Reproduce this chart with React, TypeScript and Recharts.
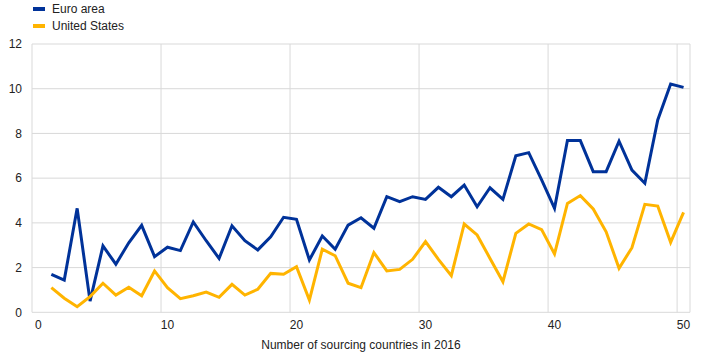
import React from 'react';
import {
  LineChart,
  Line,
  XAxis,
  YAxis,
  CartesianGrid,
  Legend
} from 'recharts';

// number of sourcing countries in 2016 (x)
const countries = [
  1, 2, 3, 4, 5, 6, 7, 8, 9, 10,
  11, 12, 13, 14, 15, 16, 17, 18, 19, 20,
  21, 22, 23, 24, 25, 26, 27, 28, 29, 30,
  31, 32, 33, 34, 35, 36, 37, 38, 39, 40,
  41, 42, 43, 44, 45, 46, 47, 48, 49, 50
];

const euroArea = [
  1.70, 1.44, 4.65, 0.50, 2.97, 2.15, 3.11, 3.89, 2.49, 2.91,
  2.76, 4.04, 3.20, 2.41, 3.87, 3.20, 2.79, 3.38, 4.25, 4.16,
  2.34, 3.41, 2.82, 3.90, 4.23, 3.76, 5.17, 4.95, 5.17, 5.05,
  5.59, 5.17, 5.69, 4.72, 5.57, 5.05, 7.00, 7.14, 5.92, 4.65,
  7.68, 7.68, 6.29, 6.29, 7.65, 6.36, 5.77, 8.60, 10.21, 10.06
];

const unitedStates = [
  1.10, 0.63, 0.25, 0.70, 1.30, 0.77, 1.12, 0.74, 1.85, 1.10,
  0.61, 0.74, 0.90, 0.67, 1.25, 0.77, 1.03, 1.74, 1.70, 2.04,
  0.55, 2.82, 2.53, 1.30, 1.10, 2.67, 1.85, 1.92, 2.37, 3.16,
  2.37, 1.64, 3.95, 3.46, 2.41, 1.37, 3.53, 3.95, 3.70, 2.61,
  4.87, 5.22, 4.62, 3.60, 1.97, 2.89, 4.83, 4.75, 3.13, 4.47
];

const xTicks = [0, 10, 20, 30, 40, 50];
const gridTicks = [-0.5, 9.5, 19.5, 29.5, 39.5, 49.5];
const yTicks = [0, 2, 4, 6, 8, 10, 12];

const BLUE = '#003299';
const YELLOW = '#FFB400';
const FONT = '"Liberation Sans", Arial, sans-serif';

const series = [
  { key: 'euro', name: 'Euro area', color: BLUE },
  { key: 'us', name: 'United States', color: YELLOW }
];

const data = countries.map((n, i) => ({
  n,
  euro: euroArea[i],
  us: unitedStates[i]
}));

const LegendBox = () => (
  <div style={{ height: 44, paddingLeft: 33, fontFamily: FONT, fontSize: 12, color: '#222' }}>
    {series.map(s => (
      <div key={s.key} style={{ display: 'flex', alignItems: 'center', height: 17 }}>
        <span style={{ display: 'inline-block', width: 12, height: 4, background: s.color, marginRight: 7 }} />
        <span>{s.name}</span>
      </div>
    ))}
  </div>
);

const App: React.FC = () => {
  return (
    <div style={{ position: 'absolute', left: 0, top: 0, background: '#fff' }}>
      <LineChart
        width={711}
        height={361}
        data={data}
        margin={{ top: 0, right: 21, left: 0, bottom: 0 }}
      >
        <Legend
          verticalAlign="top"
          align="left"
          layout="horizontal"
          content={() => <LegendBox />}
        />
        <CartesianGrid xAxisId="grid" stroke="#d9d9d9" strokeWidth={1} />
        <XAxis
          xAxisId="grid"
          dataKey="n"
          type="number"
          domain={[-0.5, 50.5]}
          ticks={gridTicks}
          hide
        />
        <XAxis
          dataKey="n"
          type="number"
          domain={[-0.5, 50.5]}
          ticks={xTicks}
          interval={0}
          height={48.7}
          axisLine={false}
          tickLine={false}
          tick={{ fontFamily: FONT, fontSize: 12, fill: '#222' }}
          label={{
            value: 'Number of sourcing countries in 2016',
            position: 'insideBottom',
            offset: 12,
            style: { fontFamily: FONT, fontSize: 12, fill: '#222' }
          }}
        />
        <YAxis
          type="number"
          domain={[0, 12]}
          ticks={yTicks}
          interval={0}
          width={32}
          axisLine={false}
          tickLine={false}
          tickMargin={4}
          tick={{ fontFamily: FONT, fontSize: 12, fill: '#222' }}
        />
        {series.map(s => (
          <Line
            key={s.key}
            type="linear"
            dataKey={s.key}
            name={s.name}
            stroke={s.color}
            strokeWidth={3}
            dot={false}
            activeDot={false}
            isAnimationActive={false}
          />
        ))}
      </LineChart>
    </div>
  );
};

export default App;
